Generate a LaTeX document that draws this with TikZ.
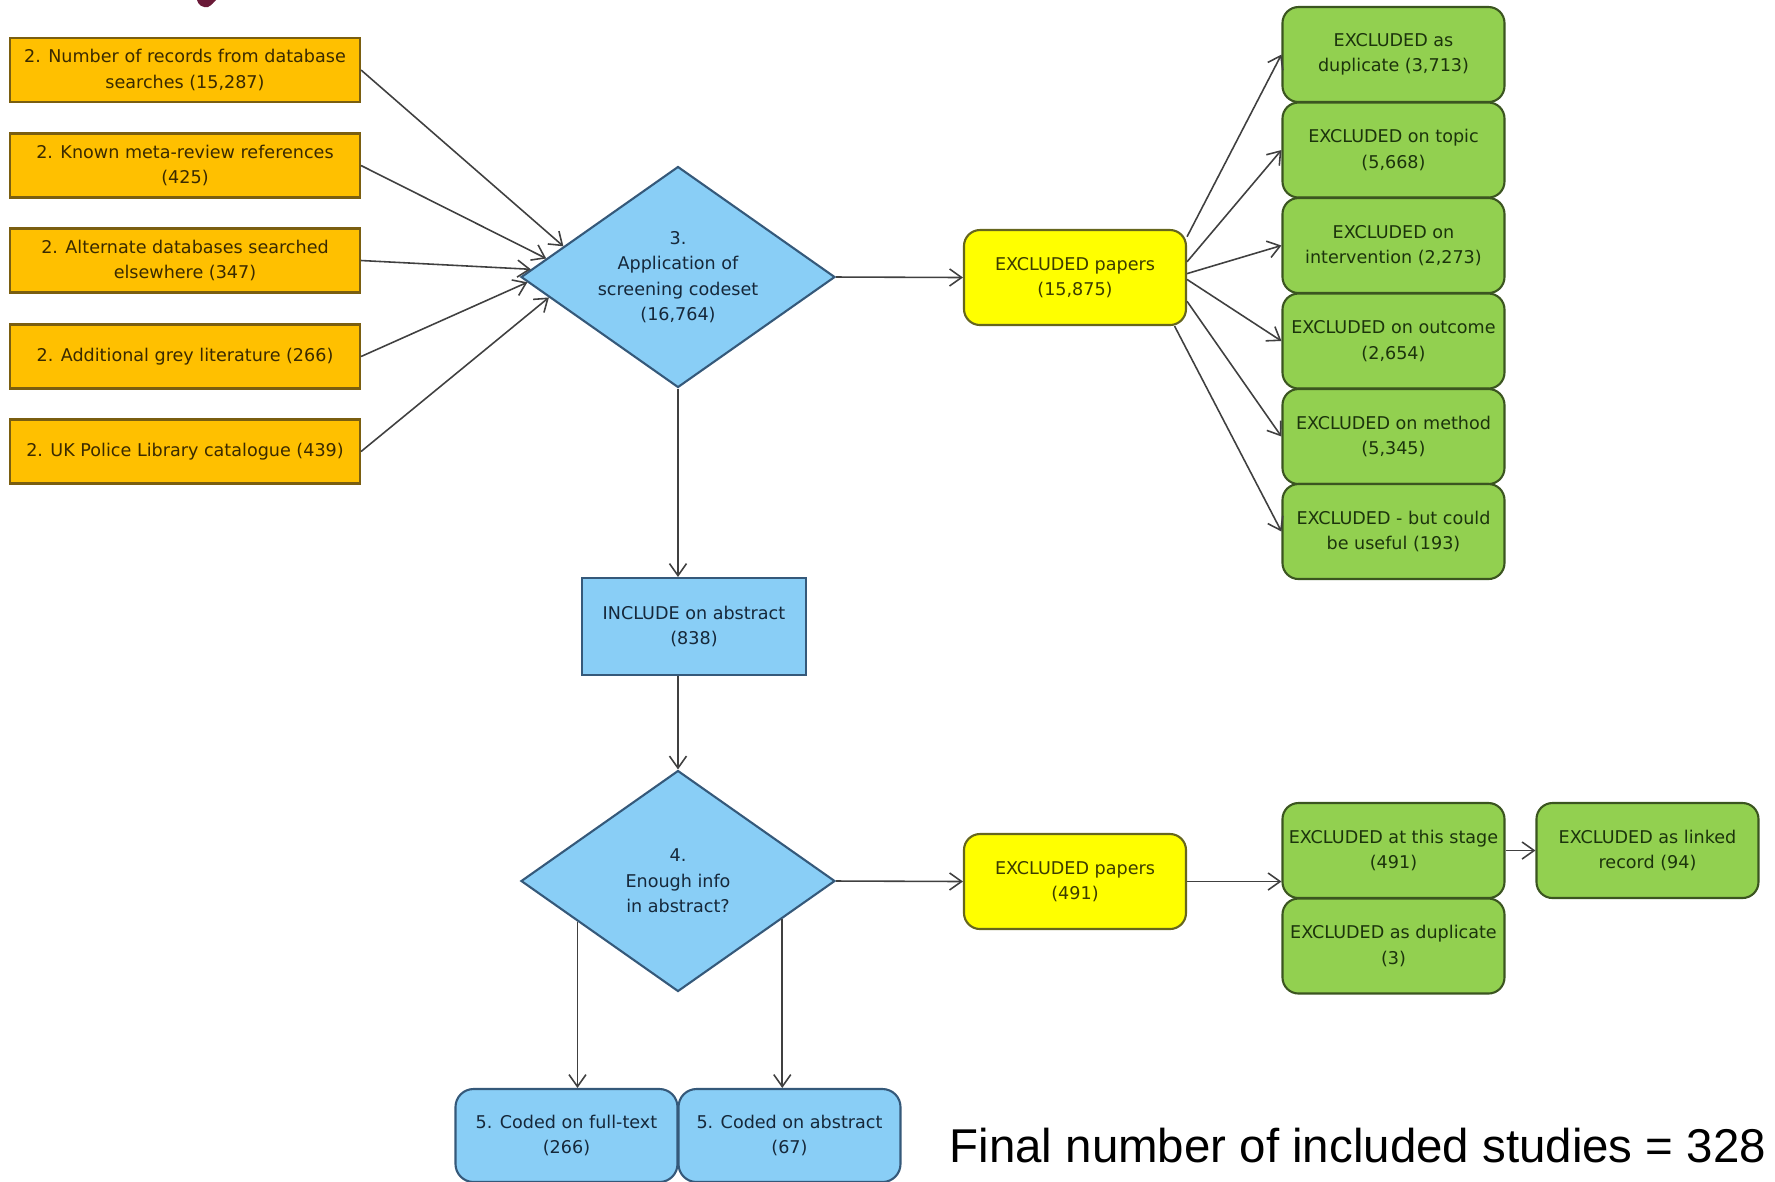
\documentclass[tikz,border=0pt]{standalone}
\usepackage{fontspec}
\setmainfont{DejaVu Sans}
\newfontfamily\arialfont{Liberation Sans}
\usepackage{tikz}
\usetikzlibrary{arrows.meta,shapes.geometric}
\definecolor{orFill}{HTML}{FFC000}
\definecolor{orDraw}{HTML}{7A5E10}
\definecolor{orText}{HTML}{3A2A00}
\definecolor{blFill}{HTML}{89CEF6}
\definecolor{blDraw}{HTML}{35597A}
\definecolor{blText}{HTML}{16283A}
\definecolor{grFill}{HTML}{92D050}
\definecolor{grDraw}{HTML}{3B5520}
\definecolor{grText}{HTML}{1C340C}
\definecolor{yeFill}{HTML}{FFFF00}
\definecolor{yeDraw}{HTML}{66661E}
\definecolor{yeText}{HTML}{3C3C00}
\definecolor{arrInk}{HTML}{404040}
\definecolor{titleRed}{HTML}{6A1A38}
\newcommand{\flowfont}{\fontsize{5}{7.25}\selectfont}
\tikzset{
  % Source box (orange)
  obox/.style={rectangle,minimum width=35mm,minimum height=6.4mm,
    inner sep=0pt,align=center,draw=orDraw,fill=orFill,
    line width=0.6pt,font=\flowfont,text=orText},
  % Screening decision (blue diamond)
  dmd/.style={diamond,aspect=1.42,minimum width=31.4mm,minimum height=22.1mm,
    inner sep=0pt,align=center,draw=blDraw,fill=blFill,
    line width=0.6pt,font=\flowfont,text=blText},
  % Included box (blue, square corners)
  ibox/.style={rectangle,minimum width=22.4mm,minimum height=9.7mm,
    inner sep=0pt,align=center,draw=blDraw,fill=blFill,
    line width=0.6pt,font=\flowfont,text=blText},
  % Coded box (blue, rounded)
  cbox/.style={rectangle,rounded corners=1.8mm,minimum width=22.2mm,
    minimum height=9.3mm,inner sep=0pt,align=center,draw=blDraw,
    fill=blFill,line width=0.6pt,font=\flowfont,text=blText},
  % Excluded total (yellow)
  ybox/.style={rectangle,rounded corners=1.6mm,minimum width=22.2mm,
    minimum height=9.5mm,inner sep=0pt,align=center,draw=yeDraw,
    fill=yeFill,line width=0.6pt,font=\flowfont,text=yeText},
  % Exclusion reason (green)
  gbox/.style={rectangle,rounded corners=1.6mm,minimum width=22.2mm,
    minimum height=9.5mm,inner sep=0pt,align=center,draw=grDraw,
    fill=grFill,line width=0.6pt,font=\flowfont,text=grText},
  % Arrows
  arr/.style={-{Straight Barb[length=1.2mm,width=1.7mm]},
    line width=0.45pt,draw=arrInk},
}
\begin{document}
\begin{tikzpicture}[x=0.1mm,y=-0.1mm]
  \useasboundingbox (0,0) rectangle (1775,1181);

  % Tail of the slide title
  \fill[titleRed] (197,0) .. controls (198,5) and (203,8) .. (208,7)
    .. controls (212,5) and (214,2) .. (216,0) -- cycle;

  % Sources
  \node[obox] (src1) at (185,70) {2. Number of records from database\\searches (15,287)};
  \node[obox] (src2) at (185,165.5) {2. Known meta-review references\\(425)};
  \node[obox] (src3) at (185,260.5) {2. Alternate databases searched\\elsewhere (347)};
  \node[obox] (src4) at (185,356.5) {2. Additional grey literature (266)};
  \node[obox] (src5) at (185,451.5) {2. UK Police Library catalogue (439)};

  % Screening
  \node[dmd] (screen) at (678,277) {3.\\Application of\\screening codeset\\(16,764)};
  \node[ybox] (excl1) at (1075,277.5) {EXCLUDED papers\\(15,875)};

  % Reasons for exclusion
  \node[gbox] (gdup) at (1393.5,54.5) {EXCLUDED as\\duplicate (3,713)};
  \node[gbox] (gtopic) at (1393.5,150) {EXCLUDED on topic\\(5,668)};
  \node[gbox] (gint) at (1393.5,245.5) {EXCLUDED on\\intervention (2,273)};
  \node[gbox] (gout) at (1393.5,341) {EXCLUDED on outcome\\(2,654)};
  \node[gbox] (gmeth) at (1393.5,436.5) {EXCLUDED on method\\(5,345)};
  \node[gbox] (guse) at (1393.5,531.5) {EXCLUDED - but could\\be useful (193)};

  % Abstract stage
  \node[ibox] (incl) at (694,626.5) {INCLUDE on abstract\\(838)};
  \node[dmd] (enough) at (678,881) {4.\\Enough info\\in abstract?};
  \node[ybox] (excl2) at (1075,881.5) {EXCLUDED papers\\(491)};
  \node[gbox] (stage) at (1393.5,850.5) {EXCLUDED at this stage\\(491)};
  \node[gbox] (gdup2) at (1393.5,946) {EXCLUDED as duplicate\\(3)};
  \node[gbox] (linked) at (1647.5,850.5) {EXCLUDED as linked\\record (94)};

  % Coded
  \node[cbox] (full) at (566.5,1135.5) {5. Coded on full-text\\(266)};
  \node[cbox] (abst) at (789.5,1135.5) {5. Coded on abstract\\(67)};

  \node[font=\arialfont\fontsize{13.5}{16}\selectfont,anchor=west,inner sep=0pt]
    (final) at (949,1146) {Final number of included studies = 328};

  % Arrows into screening
  \draw[arr] (src1.east) -- (screen.165);
  \draw[arr] (src2.east) -- (screen.172);
  \draw[arr] (src3.east) -- (screen.177);
  \draw[arr] (src4.east) -- (screen.182);
  \draw[arr] (src5.east) -- (screen.189);
  \draw[arr] (screen.east) -- (excl1.west);

  % Fan out to reasons
  \draw[arr] (excl1.20) -- (gdup.west);
  \draw[arr] (excl1.8) -- (gtopic.west);
  \draw[arr] (excl1.2) -- (gint.west);
  \draw[arr] (excl1.-1) -- (gout.west);
  \draw[arr] (excl1.-12) -- (gmeth.west);
  \draw[arr] (excl1.-26) -- (guse.west);

  % Down the middle
  \draw[arr] (screen.south) -- (screen.south |- incl.north);
  \draw[arr] (incl.south -| enough.north) -- (enough.north);
  \draw[arr] (enough.east) -- (excl2.west);
  \draw[arr] (excl2.east) -- (excl2.east -| stage.west);
  \draw[arr] (stage.east) -- (linked.west);
  \draw[arr] (enough.202) -- (enough.202 |- full.north);
  \draw[arr] (enough.340) -- (enough.340 |- abst.north);
\end{tikzpicture}
\end{document}
